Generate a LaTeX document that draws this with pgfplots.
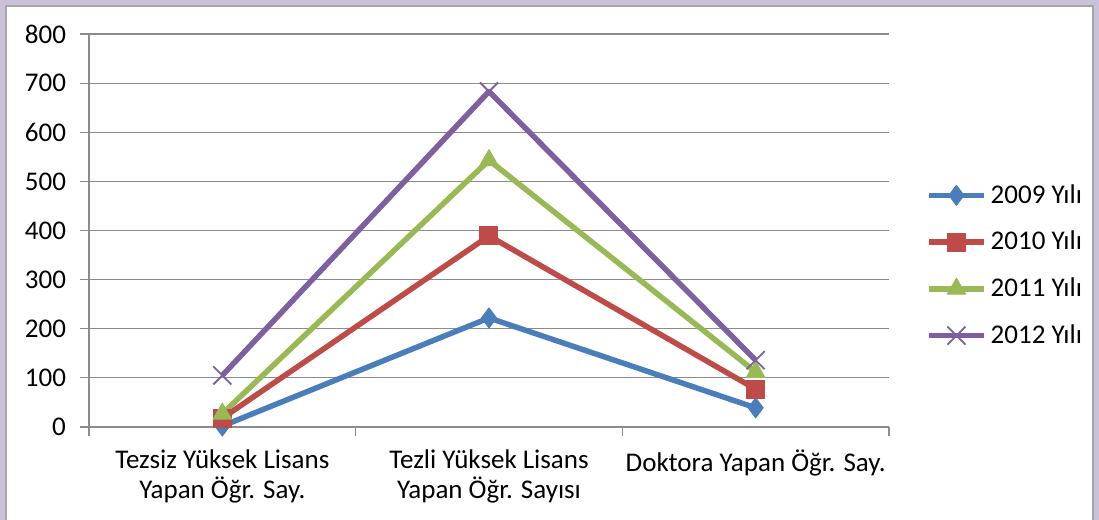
\documentclass[border=0pt]{standalone}
\usepackage{fontspec}
\setmainfont{Carlito}
\usepackage{pgfplots}
\pgfplotsset{compat=1.18}

\definecolor{s09}{HTML}{4A7EBB}
\definecolor{s10}{HTML}{BE4B48}
\definecolor{s11}{HTML}{98B954}
\definecolor{s12}{HTML}{7D60A0}
\definecolor{frm}{HTML}{CCC1DA}
\definecolor{gridc}{HTML}{8C8C8C}

\begin{document}
\begin{tikzpicture}
\begin{axis}[
  name=ax,
  scale only axis, width=400pt, height=196.5pt,
  xmin=-0.5, xmax=2.5, ymin=0, ymax=800,
  axis x line*=bottom, axis y line*=left,
  axis line style={-, draw=gridc, line width=0.6pt},
  ytick={0,100,...,800}, ymajorgrids,
  grid style={gridc, line width=0.6pt},
  xtick={-0.5,0.5,1.5,2.5}, xticklabels={},
  tick align=outside, major tick length=4.5pt,
  tick style={gridc, line width=0.6pt},
  extra x ticks={0,1,2},
  extra x tick labels={{Tezsiz Yüksek Lisans\\Yapan Öğr. Say.},{Tezli Yüksek Lisans\\Yapan Öğr. Sayısı},{Doktora Yapan Öğr. Say.}},
  extra x tick style={major tick length=0pt, grid=none},
  tick label style={font=\fontsize{13.5}{15}\selectfont},
  xticklabel style={align=center, yshift=-8pt},
  yticklabel style={xshift=-3.5pt},
  /pgf/number format/assume math mode=true,
  legend style={draw=none, fill=none, at={(1.046,0.411)}, anchor=west,
    font=\fontsize{13.5}{15}\selectfont, row sep=8.5pt, inner sep=0pt},
  legend cell align=left,
  legend image code/.code={\draw[mark repeat=2,mark phase=2] plot coordinates {(0pt,0pt) (13.75pt,0pt) (27.5pt,0pt)};},
  every axis plot/.append style={line width=2.75pt, line join=round},
]
\addplot[s09, mark=diamond*, mark size=5pt, mark options={solid, fill=s09, line width=0.5pt}]
  coordinates {(0,2) (1,222) (2,39)};
\addlegendentry{2009 Yılı}
\addplot[s10, mark=square*, mark size=4.5pt, mark options={solid, fill=s10, line width=0.5pt}]
  coordinates {(0,18) (1,389) (2,77)};
\addlegendentry{2010 Yılı}
\addplot[s11, mark=triangle*, mark size=5.3pt, mark options={solid, fill=s11, line width=0.5pt}]
  coordinates {(0,27) (1,543) (2,112)};
\addlegendentry{2011 Yılı}
\addplot[s12, mark=x, mark size=6.4pt, mark options={solid, line width=0.9pt}]
  coordinates {(0,105) (1,683) (2,136)};
\addlegendentry{2012 Yılı}
\end{axis}
% chart frame
\pgfresetboundingbox
\coordinate (bl) at ([shift={(-44.5pt,-46.5pt)}]ax.south west);
\coordinate (tr) at ([shift={(105pt,17pt)}]ax.north east);
\useasboundingbox (bl) rectangle (tr);
\fill[frm] (bl) rectangle ([xshift=3pt]bl |- tr);
\fill[frm] (bl |- tr) rectangle ([yshift=-3pt]tr);
\fill[frm] ([xshift=-3pt]tr |- bl) rectangle (tr);
\draw[gray!70, line width=0.6pt] ([xshift=3pt]bl) -- ([xshift=3pt,yshift=-3pt]bl |- tr) -- ([xshift=-3pt,yshift=-3pt]tr) -- ([xshift=-3pt]tr |- bl);
\end{tikzpicture}
\end{document}
